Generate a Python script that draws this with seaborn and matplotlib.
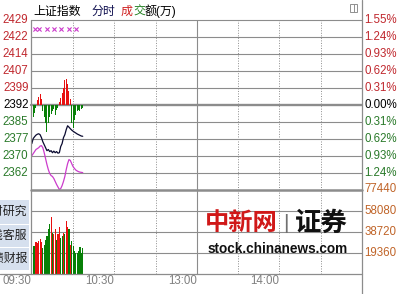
import numpy as np
import pandas as pd
import matplotlib
matplotlib.use("Agg")
import matplotlib.pyplot as plt
import seaborn as sns
from matplotlib.transforms import blended_transform_factory
from matplotlib.lines import Line2D
from matplotlib.patches import Rectangle

# ---------------- data ----------------
prev_close = 2392.2
grid_step = 7.42
label_steps = [5, 4, 3, 2, 1, 0, -1, -2, -3, -4]
price_labels = ["2429", "2422", "2414", "2407", "2399", "2392", "2385", "2377", "2370", "2362"]
pct_labels = ["1.55%", "1.24%", "0.93%", "0.62%", "0.31%", "0.00%", "0.31%", "0.62%", "0.93%", "1.24%"]
vol_top = 77440
vol_levels = [77440, 58080, 38720, 19360]
vol_labels = ["77440", "58080", "38720", "19360"]
time_labels = ["09:30", "10:30", "13:00", "14:00"]
time_minutes = [0, 60, 120, 180]
session_minutes = 240
half_hours = [30, 60, 90, 150, 180, 210]
midday = 120

minutes = list(range(38))
index_line = [2375.2, 2377.4, 2378.2, 2378.9, 2379.3, 2379.5, 2379.1, 2377.8, 2376.0, 2374.7,
              2373.4, 2372.1, 2372.6, 2371.7, 2372.1, 2371.2, 2371.9, 2371.2, 2371.7, 2371.0,
              2371.2, 2373.9, 2375.2, 2377.8, 2379.1, 2381.3, 2383.0, 2382.4, 2381.7, 2381.1,
              2380.6, 2380.2, 2379.8, 2379.4, 2379.1, 2378.8, 2378.5, 2378.4]
magenta_line = [2369.9, 2370.8, 2371.7, 2372.6, 2373.0, 2373.4, 2374.1, 2374.3, 2373.4, 2371.2,
                2368.6, 2366.0, 2363.8, 2362.1, 2361.2, 2360.8, 2359.9, 2358.6, 2357.3, 2356.2,
                2355.1, 2355.5, 2356.8, 2358.6, 2360.8, 2363.8, 2366.4, 2368.2, 2367.8, 2366.4,
                2365.1, 2364.3, 2363.6, 2363.2, 2362.9, 2362.7, 2362.6, 2362.5]
lead_diff = [-6.1, -5.2, -3.5, -1.3, 2.2, 3.5, 4.8, 2.6, -2.6, -5.2,
             -7.9, -11.8, -7.9, -5.2, -3.9, -2.6, -1.7, -4.4, -2.2, -1.3,
             1.3, 3.1, 5.2, 7.4, 10.9, 11.3, 9.2, 6.1, 2.6, -7.9,
             -10.0, -6.5, -4.4, -2.6, -2.2, -2.6, -1.7, -1.3]
volume = [72600, 26000, 25800, 29500, 28600, 30000, 32500, 29500, 24000, 27000,
          31000, 35000, 41000, 45500, 52300, 38000, 36200, 41000, 31600, 36200,
          43000, 33200, 35000, 37800, 36200, 48600, 43000, 40900, 27000, 30100,
          25500, 21000, 19400, 19400, 20900, 24600, 19400, 24000]
volume_dir = ["down", "down", "down", "up", "up", "up", "up", "up", "down", "down",
              "down", "down", "down", "down", "up", "down", "up", "up", "down", "up",
              "up", "down", "down", "up", "down", "up", "up", "down", "up", "down",
              "down", "down", "down", "down", "down", "down", "down", "down"]
signal_minutes = [2, 5, 11, 16, 21, 27, 32]
signal_level = 2425.2

# ---------------- styling ----------------
RED = "#e81010"
GREEN = "#078007"
LAB_RED = "#c0282e"
LAB_GREEN = "#2a7a2a"
VOL_LAB = "#c06428"
GRID = "#8c8c8c"
LINE_DARK = "#0a0a30"
MAGENTA = "#cc3ccc"

sns.set_theme(style="white")
plt.rcParams["font.family"] = ["Liberation Sans", "Noto Sans CJK SC", "DejaVu Sans"]

W, H = 412, 294
def fx(x):
    return x / W
def fy(y):
    return 1 - y / H

fig = plt.figure(figsize=(W / 100, H / 100), dpi=100)
fig.patch.set_facecolor("white")

left_px, right_px = 31, 362
top_px, sep_px, bot_px = 20, 189.5, 274
ax_p = fig.add_axes([fx(left_px), fy(sep_px), (right_px - left_px) / W, (sep_px - top_px) / H])
ax_v = fig.add_axes([fx(left_px), fy(bot_px), (right_px - left_px) / W, (bot_px - sep_px) / H])
ax_d = ax_p.twinx()

df = pd.DataFrame({"minute": minutes, "index": index_line, "mag": magenta_line,
                   "diff": lead_diff, "vol": volume, "vdir": volume_dir})
df["ddir"] = np.where(df["diff"] >= 0, "up", "down")
pal = {"up": RED, "down": GREEN}

# grid
for k in range(-4, 6):
    lvl = prev_close + k * grid_step
    ax_p.axhline(lvl, color=GRID, lw=1.7 if k == 0 else 0.8, zorder=0, clip_on=False)
for lvl in vol_levels[1:]:
    ax_v.axhline(lvl, color=GRID, lw=0.8, zorder=0)
ax_v.axhline(vol_top, color=GRID, lw=1.8, zorder=0, clip_on=False)
for ax in (ax_p, ax_v):
    for m in half_hours:
        ax.axvline(m, color=GRID, lw=0.7, ls=(0, (1, 1.6)), zorder=0)
    ax.axvline(midday, color=GRID, lw=0.8, zorder=0)

# lead bars around previous close
sns.barplot(data=df, x="minute", y="diff", hue="ddir", palette=pal, native_scale=True,
            dodge=False, width=0.75, saturation=1, errorbar=None, legend=False, ax=ax_d,
            linewidth=0)
# lines
sns.lineplot(data=df, x="minute", y="index", color=LINE_DARK, lw=0.9, ax=ax_p)
sns.lineplot(data=df, x="minute", y="mag", color=MAGENTA, lw=0.9, ax=ax_p)
sns.scatterplot(x=signal_minutes, y=[signal_level] * len(signal_minutes), marker="x",
                color=MAGENTA, s=9, linewidth=0.8, ax=ax_p)
# volume
sns.barplot(data=df, x="minute", y="vol", hue="vdir", palette=pal, native_scale=True,
            dodge=False, width=0.8, saturation=1, errorbar=None, legend=False, ax=ax_v,
            linewidth=0)

ax_p.set_ylim(prev_close - 5 * grid_step, prev_close + 5 * grid_step)
ax_d.set_ylim(-5 * grid_step, 5 * grid_step)
ax_v.set_ylim(0, vol_top)
for ax in (ax_p, ax_v, ax_d):
    ax.set_xlim(-0.6, session_minutes)
    ax.set_xticks([])
    ax.set_yticks([])
    ax.set_xlabel("")
    ax.set_ylabel("")
    ax.patch.set_alpha(0)
    for sp in ax.spines.values():
        sp.set_visible(False)

# axis labels
fs = 8.3
tp = blended_transform_factory(fig.transFigure, ax_p.transData)
for k, lab, pct in zip(label_steps, price_labels, pct_labels):
    lvl = prev_close + k * grid_step
    col = LAB_RED if k > 0 else ("#000000" if k == 0 else LAB_GREEN)
    ax_p.text(fx(28.5), lvl, lab, transform=tp, ha="right", va="center", fontsize=fs, color=col, clip_on=False)
    ax_p.text(fx(364.5), lvl, pct, transform=tp, ha="left", va="center", fontsize=fs, color=col, clip_on=False)
tv = blended_transform_factory(fig.transFigure, ax_v.transData)
for lvl, lab in zip(vol_levels, vol_labels):
    ax_v.text(fx(364.5), lvl, lab, transform=tv, ha="left", va="center", fontsize=fs, color=VOL_LAB, clip_on=False)
tx = blended_transform_factory(ax_v.transData, fig.transFigure)
for m, lab in zip(time_minutes, time_labels):
    ax_v.text(m, fy(281.5), lab, transform=tx, ha="right", va="center", fontsize=fs,
              color="#808080", clip_on=False)

# frame lines
fig.add_artist(Line2D([fx(left_px), fx(left_px)], [fy(top_px), fy(bot_px)], color=GRID, lw=0.9))
fig.add_artist(Line2D([fx(right_px), fx(right_px)], [fy(0), fy(294)], color=GRID, lw=0.9))
fig.add_artist(Line2D([fx(0), fx(right_px)], [fy(bot_px), fy(bot_px)], color=GRID, lw=0.9))

# title
tfs = 8.6
fig.text(fx(33), fy(11.5), "上证指数", ha="left", va="center", fontsize=tfs, color="#000000")
fig.text(fx(92), fy(11.5), "分时", ha="left", va="center", fontsize=tfs, color="#101050")
fig.text(fx(121), fy(11.5), "成", ha="left", va="center", fontsize=tfs, color="#d02020")
fig.text(fx(133), fy(11.5), "交", ha="left", va="center", fontsize=tfs, color="#208020")
fig.text(fx(145), fy(11.5), "额(万)", ha="left", va="center", fontsize=tfs, color="#000000")

# small icon top right
fig.add_artist(Rectangle((fx(350), fy(12)), 7 / W, 8 / H, fill=False, ec="#909090", lw=0.7))
fig.add_artist(Line2D([fx(354), fx(354)], [fy(4), fy(12)], color="#909090", lw=0.7))

# side buttons (partly cut off at the left edge, as in the original)
for (y0, y1), txt in zip([(200, 224), (225, 247), (248, 270)], ["理财研究", "在线客服", "业绩财报"]):
    fig.add_artist(Rectangle((fx(0), fy(y1)), 29 / W, (y1 - y0) / H, fc="#d6e0ee", ec="none"))
    fig.text(fx(27.5), fy((y0 + y1) / 2), txt, ha="right", va="center", fontsize=tfs, color="#202020")

# watermark
fig.text(fx(205), fy(223.5), "中新网", ha="left", va="center", fontsize=17.5, color="#d01818",
         fontweight="bold", style="italic")
fig.text(fx(286), fy(223.5), "|", ha="center", va="center", fontsize=15, color="#707070")
fig.text(fx(295), fy(223.5), "证券", ha="left", va="center", fontsize=19, color="#101010",
         fontweight="bold")
fig.text(fx(208), fy(249), "stock.chinanews.com", ha="left", va="center", fontsize=9.8,
         color="#101010", fontweight="bold")

fig.savefig("out.png", dpi=100)
